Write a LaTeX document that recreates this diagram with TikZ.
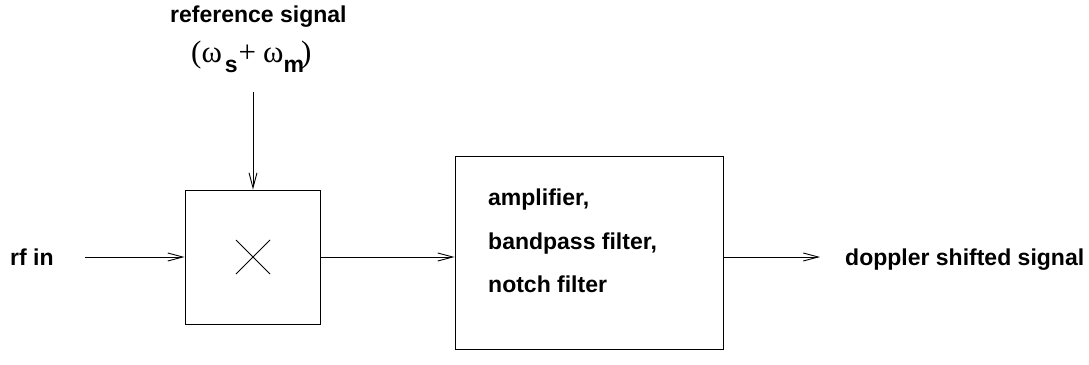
\documentclass[tikz,border=0pt]{standalone}
\usepackage{fontspec}
\setmainfont{Liberation Sans}
\newfontfamily\symf{Liberation Serif}
\usetikzlibrary{arrows.meta}

\tikzset{
  lbl/.style={inner sep=0pt, font=\fontsize{23}{23}\selectfont\bfseries},
  blockbox/.style={draw, line width=0.9pt, inner sep=0pt},
  sig/.style={line width=0.9pt, -{Straight Barb[length=15pt,width=8pt,line width=0.9pt]}}
}
% upright serif symbols of the frequency label
\newcommand{\sym}[1]{{\symf\mdseries\fontsize{31}{31}\selectfont #1}}

\begin{document}
\begin{tikzpicture}[x=1pt, y=-1pt]
  \useasboundingbox (0,0) rectangle (1089,364);

  % mixer and filter blocks
  \node[blockbox, minimum width=135pt, minimum height=134pt] (mix) at (252.5,257) {};
  \node[blockbox, minimum width=268pt, minimum height=193pt] (filt) at (589,252.5) {};

  % multiplication sign inside the mixer
  \draw[line width=0.9pt] (236,240) -- (270,274) (236,274) -- (270,240);

  % labels
  \node[lbl, anchor=base west] (ref) at (170,23) {reference signal};
  \node[lbl, anchor=base west] (freq) at (191,62)
    {\sym{(ω}\kern3pt\raisebox{-10pt}{s}\kern1pt\sym{+\kern7pt ω}\raisebox{-10pt}{m}\kern-3pt\sym{)}};
  \node[lbl, anchor=base west] (rfin) at (10,265) {rf in};
  \node[lbl, anchor=base west] (out) at (845,265) {doppler shifted signal};
  \node[lbl, anchor=base west] (l1) at (488,205) {amplifier,};
  \node[lbl, anchor=base west] (l2) at (488,249) {bandpass filter,};
  \node[lbl, anchor=base west] (l3) at (488,292) {notch filter};

  % signal path
  \coordinate (refsrc) at (253,92);
  \coordinate (rfsrc) at (85,257);
  \coordinate (outend) at (820,257);
  \draw[sig] (refsrc) -- (refsrc |- mix.north);
  \draw[sig] (rfsrc) -- (mix.west);
  \draw[sig] (mix.east) -- (filt.west |- mix.east);
  \draw[sig] (filt.east |- mix.east) -- (outend);
\end{tikzpicture}
\end{document}
